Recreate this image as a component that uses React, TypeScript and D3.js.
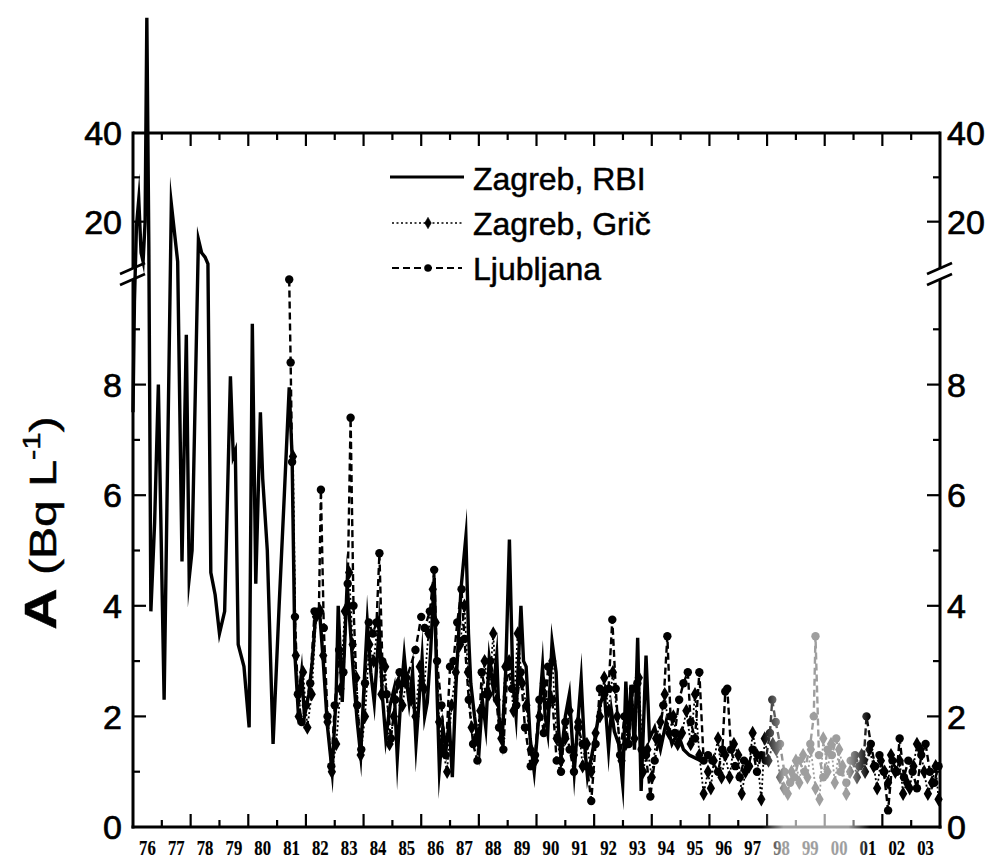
import React from "react";
import * as d3 from "d3";

// ---------- data (year, activity Bq/L) ----------
const rbiSeries: [number, number][] = [
  [1976.0, 7.5], [1976.05, 9.5], [1976.12, 19], [1976.2, 25], [1976.28, 13], [1976.35, 11], [1976.42, 20],
  [1976.48, 66], [1976.55, 14], [1976.62, 3.9], [1976.75, 5.5], [1976.88, 8.0], [1977.08, 2.3], [1977.33, 24],
  [1977.55, 11], [1977.7, 4.8], [1977.85, 8.9], [1977.95, 4.5], [1978.05, 5], [1978.27, 16], [1978.38, 13],
  [1978.5, 12], [1978.6, 10.5], [1978.7, 4.6], [1978.85, 4.2], [1979.0, 3.5], [1979.18, 3.9], [1979.38, 8.15],
  [1979.48, 6.7], [1979.55, 6.8], [1979.65, 3.3], [1979.85, 2.9], [1980.03, 1.8], [1980.14, 9.1], [1980.26, 4.4],
  [1980.42, 7.5], [1980.5, 6.3], [1980.66, 5.0], [1980.86, 1.5], [1981.07, 4.0], [1981.25, 6.0], [1981.42, 7.95],
  [1981.52, 6.7], [1981.62, 3.1], [1981.72, 2.2], [1981.85, 2.8], [1981.95, 2.0], [1982.1, 2.4], [1982.22, 3.0],
  [1982.34, 3.85], [1982.48, 3.85], [1982.6, 3.0], [1982.75, 1.8], [1982.91, 1.0], [1983.05, 2.4], [1983.12, 4.0],
  [1983.26, 2.26], [1983.43, 4.4], [1983.55, 3.5], [1983.67, 2.6], [1983.78, 1.9], [1983.9, 1.3], [1984.02, 2.6],
  [1984.13, 3.7], [1984.25, 2.8], [1984.37, 2.25], [1984.54, 3.6], [1984.65, 2.4], [1984.77, 1.6], [1984.92, 2.2],
  [1985.06, 2.5], [1985.17, 1.25], [1985.3, 2.4], [1985.41, 3.1], [1985.5, 2.6], [1985.58, 2.25], [1985.7, 2.8],
  [1985.82, 1.5], [1986.03, 3.05], [1986.12, 2.0], [1986.21, 2.25], [1986.33, 3.2], [1986.45, 4.5], [1986.54, 2.6],
  [1986.63, 1.05], [1986.75, 1.8], [1986.86, 1.4], [1986.97, 1.9], [1987.08, 0.9], [1987.2, 2.5], [1987.38, 4.3],
  [1987.55, 5.25], [1987.64, 3.5], [1987.72, 2.6], [1987.85, 2.0], [1988.01, 1.4], [1988.12, 2.3], [1988.24, 1.8],
  [1988.36, 3.05], [1988.5, 2.5], [1988.62, 3.1], [1988.7, 2.0], [1988.81, 1.6], [1988.93, 2.8], [1989.06, 5.2],
  [1989.18, 2.6], [1989.29, 2.0], [1989.46, 4.0], [1989.55, 3.0], [1989.64, 2.9], [1989.78, 1.6], [1989.92, 1.0],
  [1990.05, 1.8], [1990.21, 2.9], [1990.3, 2.0], [1990.39, 1.7], [1990.54, 3.35], [1990.68, 2.8], [1990.76, 1.8],
  [1990.85, 1.25], [1991.0, 2.0], [1991.14, 2.4], [1991.31, 1.0], [1991.42, 1.8], [1991.55, 2.67], [1991.65, 1.6],
  [1991.77, 0.9], [1991.92, 1.3], [1992.07, 1.73], [1992.2, 2.2], [1992.35, 2.45], [1992.5, 1.4], [1992.6, 2.1],
  [1992.7, 1.73], [1992.85, 1.5], [1992.99, 0.77], [1993.1, 2.63], [1993.2, 1.6], [1993.28, 2.57], [1993.4, 1.4],
  [1993.51, 3.42], [1993.63, 0.65], [1993.8, 3.1], [1993.92, 1.6], [1994.1, 1.8], [1994.3, 1.4], [1994.5, 1.9],
  [1994.7, 1.5], [1994.9, 1.7], [1995.1, 1.4], [1995.3, 1.3], [1995.5, 1.25], [1995.7, 1.2],
];

const gricSeries: [number, number][] = [
  [1981.55, 6.7], [1981.65, 3.1], [1981.75, 2.0], [1981.9, 2.8], [1982.05, 1.8], [1982.2, 2.4], [1982.35, 3.8],
  [1982.5, 3.9], [1982.6, 3.1], [1982.75, 1.9], [1982.9, 1.0], [1983.05, 1.5], [1983.2, 2.5], [1983.35, 3.9],
  [1983.5, 4.6], [1983.62, 3.3], [1983.75, 2.7], [1983.9, 1.3], [1984.05, 2.0], [1984.2, 3.3], [1984.35, 3.0],
  [1984.5, 3.7], [1984.62, 2.4], [1984.75, 2.9], [1984.9, 1.5], [1985.05, 2.0], [1985.2, 2.6], [1985.35, 2.2],
  [1985.5, 2.7], [1985.65, 2.3], [1985.8, 2.0], [1985.95, 2.9], [1986.1, 2.5], [1986.25, 3.5], [1986.4, 4.3],
  [1986.5, 3.7], [1986.62, 1.9], [1986.75, 1.4], [1986.9, 1.0], [1987.05, 2.2], [1987.2, 2.8], [1987.35, 3.3],
  [1987.5, 4.0], [1987.62, 2.8], [1987.75, 1.8], [1987.9, 1.6], [1988.05, 2.1], [1988.2, 3.0], [1988.35, 2.4],
  [1988.5, 3.5], [1988.62, 2.3], [1988.78, 1.6], [1988.92, 2.9], [1989.05, 3.0], [1989.2, 2.1], [1989.35, 3.5],
  [1989.5, 2.6], [1989.65, 2.2], [1989.8, 1.4], [1989.95, 1.2], [1990.1, 2.0], [1990.25, 2.6], [1990.4, 2.2],
  [1990.55, 3.0], [1990.7, 1.6], [1990.85, 1.2], [1991.0, 1.6], [1991.15, 2.1], [1991.3, 1.3], [1991.45, 1.9],
  [1991.6, 1.1], [1991.75, 1.5], [1991.9, 1.0], [1992.05, 1.7], [1992.2, 2.0], [1992.35, 2.7], [1992.5, 2.1],
  [1992.65, 2.8], [1992.8, 2.0], [1992.95, 1.2], [1993.1, 1.5], [1993.25, 2.2], [1993.4, 1.6], [1993.55, 2.7],
  [1993.7, 1.0], [1993.85, 1.4], [1994.0, 0.9], [1994.15, 1.6], [1994.3, 1.9], [1994.45, 2.4], [1994.6, 1.7],
  [1994.75, 2.0], [1994.9, 1.5], [1995.05, 1.7], [1995.2, 2.1], [1995.35, 1.5], [1995.5, 2.4], [1995.65, 1.3],
  [1995.8, 0.6], [1995.95, 1.0], [1996.05, 0.7], [1996.15, 1.2], [1996.3, 1.6], [1996.42, 0.9], [1996.55, 1.3],
  [1996.7, 0.9], [1996.85, 1.5], [1997.0, 1.3], [1997.12, 0.6], [1997.25, 1.0], [1997.38, 1.1], [1997.5, 1.7],
  [1997.65, 1.3], [1997.8, 0.5], [1997.92, 1.6], [1998.05, 1.2], [1998.2, 1.5], [1998.32, 1.4], [1998.45, 0.9],
  [1998.58, 0.7], [1998.72, 0.6], [1998.85, 1.0], [1999.0, 1.2], [1999.12, 0.8], [1999.25, 1.3], [1999.4, 0.9],
  [1999.52, 1.4], [1999.68, 0.7], [1999.82, 0.5], [1999.95, 1.6], [2000.1, 1.0], [2000.22, 1.5], [2000.35, 0.8],
  [2000.5, 1.4], [2000.62, 1.1], [2000.75, 0.6], [2000.88, 1.0], [2001.0, 1.2], [2001.12, 0.9], [2001.28, 1.3],
  [2001.4, 1.0], [2001.55, 1.4], [2001.7, 1.1], [2001.82, 0.7], [2001.95, 1.2], [2002.08, 1.0], [2002.2, 0.8],
  [2002.3, 1.3], [2002.45, 1.0], [2002.6, 1.2], [2002.72, 0.6], [2002.85, 0.8], [2002.95, 0.7], [2003.08, 1.1],
  [2003.2, 1.5], [2003.32, 1.4], [2003.45, 1.0], [2003.58, 0.6], [2003.72, 0.8], [2003.85, 1.1], [2003.95, 0.5],
];

const ljubljanaSeries: [number, number][] = [
  [1981.42, 9.9], [1981.47, 8.4], [1981.52, 6.6], [1981.62, 3.8], [1981.72, 2.4], [1981.85, 1.9], [1982.0, 2.2],
  [1982.15, 2.6], [1982.3, 3.9], [1982.45, 3.9], [1982.52, 6.1], [1982.62, 3.6], [1982.75, 2.0], [1982.88, 1.1],
  [1983.0, 2.2], [1983.15, 3.2], [1983.3, 2.8], [1983.45, 4.4], [1983.55, 7.4], [1983.65, 4.0], [1983.78, 2.2],
  [1983.92, 1.4], [1984.05, 2.6], [1984.18, 3.7], [1984.32, 3.5], [1984.45, 3.7], [1984.55, 4.95], [1984.65, 3.0],
  [1984.8, 2.4], [1984.95, 1.6], [1985.1, 2.3], [1985.25, 2.8], [1985.45, 2.6], [1985.8, 3.2], [1986.0, 3.8],
  [1986.12, 3.6], [1986.3, 3.9], [1986.45, 4.65], [1986.55, 3.0], [1986.7, 2.2], [1986.85, 1.3], [1987.0, 2.9],
  [1987.12, 3.0], [1987.25, 3.7], [1987.4, 4.3], [1987.5, 3.4], [1987.65, 2.3], [1987.8, 1.5], [1987.95, 1.2],
  [1988.1, 2.8], [1988.25, 2.4], [1988.4, 3.0], [1988.55, 2.6], [1988.7, 1.8], [1988.85, 1.4], [1989.0, 2.9],
  [1989.15, 2.5], [1989.3, 2.2], [1989.45, 2.8], [1989.6, 1.8], [1989.8, 1.1], [1989.95, 1.3], [1990.1, 2.3],
  [1990.25, 1.7], [1990.4, 2.9], [1990.55, 2.3], [1990.7, 1.2], [1990.85, 1.0], [1991.0, 1.9], [1991.15, 1.4],
  [1991.3, 1.0], [1991.45, 1.8], [1991.6, 1.5], [1991.75, 1.1], [1991.9, 0.47], [1992.05, 1.5], [1992.2, 2.5],
  [1992.35, 2.4], [1992.5, 2.5], [1992.63, 3.75], [1992.75, 2.5], [1992.9, 1.3], [1993.05, 2.0], [1993.2, 1.5],
  [1993.35, 2.5], [1993.5, 2.6], [1993.65, 1.4], [1993.8, 1.3], [1993.95, 0.55], [1994.1, 1.2], [1994.25, 1.6],
  [1994.4, 2.2], [1994.54, 3.45], [1994.65, 2.0], [1994.8, 1.7], [1994.95, 2.3], [1995.1, 2.6], [1995.25, 2.8],
  [1995.35, 1.9], [1995.5, 1.6], [1995.65, 2.8], [1995.8, 1.2], [1995.95, 1.3], [1996.1, 1.2], [1996.3, 1.0],
  [1996.45, 1.4], [1996.55, 2.45], [1996.62, 2.5], [1996.75, 1.4], [1996.9, 1.1], [1997.05, 0.9], [1997.2, 1.2],
  [1997.35, 1.1], [1997.5, 1.4], [1997.65, 1.0], [1997.8, 1.3], [1997.95, 1.2], [1998.1, 1.7], [1998.18, 2.3],
  [1998.3, 1.9], [1998.45, 1.5], [1998.6, 1.0], [1998.8, 0.8], [1998.95, 0.9], [1999.1, 1.2], [1999.3, 1.0],
  [1999.5, 1.5], [1999.62, 2.0], [1999.68, 3.45], [1999.8, 1.3], [1999.95, 0.9], [2000.1, 1.4], [2000.25, 1.3],
  [2000.4, 1.6], [2000.55, 1.0], [2000.75, 0.8], [2000.9, 1.2], [2001.05, 1.3], [2001.2, 1.1], [2001.35, 1.2],
  [2001.45, 2.0], [2001.6, 1.5], [2001.75, 1.1], [2001.9, 1.3], [2002.05, 1.0], [2002.2, 0.3], [2002.35, 1.2],
  [2002.5, 1.0], [2002.6, 1.6], [2002.75, 0.9], [2002.9, 1.2], [2003.05, 1.0], [2003.2, 0.7], [2003.35, 1.3],
  [2003.5, 1.5], [2003.65, 1.0], [2003.8, 0.8], [2003.95, 1.1],
];

const yearLabels = ["76", "77", "78", "79", "80", "81", "82", "83", "84", "85", "86", "87", "88", "89",
  "90", "91", "92", "93", "94", "95", "96", "97", "98", "99", "00", "01", "02", "03"];
const lowerTickLabels = [0, 2, 4, 6, 8];
const upperTickLabels = [20, 40];
const legendNames = ["Zagreb, RBI", "Zagreb, Grič", "Ljubljana"];

// ---------- layout ----------
const W = 990, H = 862;
const L = 133, R = 940, TOP = 133, BOT = 827;
const x = d3.scaleLinear().domain([1976, 2004]).range([L, R]);
const yLow = d3.scaleLinear().domain([0, 10]).range([BOT, 274]);
const yHigh = d3.scaleLinear().domain([10, 40]).range([266, TOP]);
const yMap = (v: number) => (v <= 10 ? yLow(v) : yHigh(v));

const line = d3.line<[number, number]>().x((d) => x(d[0])).y((d) => yMap(d[1]));
const diamond = d3.symbol().type(d3.symbolDiamond).size(60)() as string;
const diamondSmall = d3.symbol().type(d3.symbolDiamond).size(38)() as string;

const SANS = "'Liberation Sans', Arial, sans-serif";
const SERIF = "'Liberation Serif', 'Times New Roman', serif";

export default function App() {
  const yearTicks = d3.range(1977, 2004);
  const lowerMinor = d3.range(1, 10);
  const ax = { stroke: "#000", strokeWidth: 3, fill: "none" } as const;

  return (
    <svg width={W} height={H} style={{ position: "absolute", left: 0, top: 0, background: "#fff" }}
      fontFamily={SANS}>
      <defs>
        <linearGradient id="fade" x1="0" x2="1" y1="0" y2="0">
          <stop offset="0" stopColor="#fff" stopOpacity="0" />
          <stop offset="0.2" stopColor="#fff" stopOpacity="0.62" />
          <stop offset="0.8" stopColor="#fff" stopOpacity="0.62" />
          <stop offset="1" stopColor="#fff" stopOpacity="0" />
        </linearGradient>
      </defs>
      <rect x={0} y={0} width={W} height={H} fill="#fff" />

      {/* data */}
      <path d={line(ljubljanaSeries) || ""} fill="none" stroke="#000" strokeWidth={2.4} strokeDasharray="7,4" />
      <path d={line(gricSeries) || ""} fill="none" stroke="#000" strokeWidth={1.8} strokeDasharray="2,2.5" />
      <path d={line(rbiSeries) || ""} fill="none" stroke="#000" strokeWidth={3.4} strokeLinejoin="miter" strokeMiterlimit={20} />
      {ljubljanaSeries.map((d, i) => (
        <circle key={"l" + i} cx={x(d[0])} cy={yMap(d[1])} r={4.2} fill="#000" />
      ))}
      {gricSeries.map((d, i) => (
        <path key={"g" + i} d={diamond} transform={`translate(${x(d[0])},${yMap(d[1])})`} fill="#000" />
      ))}

      {/* frame */}
      <line x1={L} x2={R} y1={TOP} y2={TOP} {...ax} />
      <line x1={L - 1.5} x2={R + 1.5} y1={BOT} y2={BOT} {...ax} />
      <line x1={L} x2={L} y1={TOP - 1.5} y2={268} {...ax} />
      <line x1={L} x2={L} y1={279} y2={BOT + 1.5} {...ax} />
      <line x1={R} x2={R} y1={TOP - 1.5} y2={268} {...ax} />
      <line x1={R} x2={R} y1={279} y2={BOT + 1.5} {...ax} />
      {/* break marks */}
      {[L, R].map((bx) => (
        <g key={"br" + bx}>
          <line x1={bx - 13} y1={274} x2={bx + 12} y2={263} stroke="#000" strokeWidth={2.6} />
          <line x1={bx - 13} y1={285} x2={bx + 12} y2={274} stroke="#000" strokeWidth={2.6} />
        </g>
      ))}

      {/* x ticks */}
      {yearTicks.map((yr) => {
        const len = yr % 2 === 0 ? 13 : 7;
        return (
          <g key={"xt" + yr}>
            <line x1={x(yr)} x2={x(yr)} y1={BOT} y2={BOT - len} stroke="#000" strokeWidth={2.2} />
            <line x1={x(yr)} x2={x(yr)} y1={TOP} y2={TOP + len} stroke="#000" strokeWidth={2.2} />
          </g>
        );
      })}
      {/* y ticks */}
      {lowerMinor.map((v) => {
        const len = v % 2 === 0 ? 13 : 7;
        return (
          <g key={"yt" + v}>
            <line x1={L} x2={L + len} y1={yLow(v)} y2={yLow(v)} stroke="#000" strokeWidth={2.2} />
            <line x1={R} x2={R - len} y1={yLow(v)} y2={yLow(v)} stroke="#000" strokeWidth={2.2} />
          </g>
        );
      })}
      {[20, 30].map((v) => {
        const len = v === 20 ? 13 : 7;
        return (
          <g key={"yu" + v}>
            <line x1={L} x2={L + len} y1={yHigh(v)} y2={yHigh(v)} stroke="#000" strokeWidth={2.2} />
            <line x1={R} x2={R - len} y1={yHigh(v)} y2={yHigh(v)} stroke="#000" strokeWidth={2.2} />
          </g>
        );
      })}

      {/* y tick labels */}
      <g fontSize={34} fill="#000" stroke="#000" strokeWidth={0.7}>
        {lowerTickLabels.map((v) => (
          <g key={"yl" + v}>
            <text x={L - 11} y={yLow(v)} dy="0.36em" textAnchor="end">{v}</text>
            <text x={R + 7} y={yLow(v)} dy="0.36em" textAnchor="start">{v}</text>
          </g>
        ))}
        {upperTickLabels.map((v) => (
          <g key={"yh" + v}>
            <text x={L - 11} y={yHigh(v)} dy="0.36em" textAnchor="end">{v}</text>
            <text x={R + 7} y={yHigh(v)} dy="0.36em" textAnchor="start">{v}</text>
          </g>
        ))}
      </g>

      {/* x tick labels */}
      <g fontFamily={SERIF} fontSize={22} fontWeight="bold" fill="#000" stroke="#000" strokeWidth={0.2}>
        {yearLabels.map((lab, i) => (
          <text key={"xl" + i} textAnchor="middle"
            transform={`translate(${x(1976 + i + 0.5)},855) scale(0.76,1)`}>{lab}</text>
        ))}
      </g>

      {/* y axis title */}
      <text transform="translate(56,523) rotate(-90) scale(1.3,1)" textAnchor="middle" fill="#000" fontSize={37}
        stroke="#000" strokeWidth={0.5}>
        <tspan fontWeight="bold" fontSize={44}>A</tspan>
        <tspan> (Bq L</tspan>
        <tspan fontSize={24} dy={-16}>-1</tspan>
        <tspan dy={16}>)</tspan>
      </text>

      {/* legend */}
      <g fontSize={32} fill="#000" stroke="#000" strokeWidth={0.5}>
        <line x1={390} x2={464} y1={177} y2={177} stroke="#000" strokeWidth={3.2} />
        <text x={473} y={190}>{legendNames[0]}</text>
        <line x1={392} x2={462} y1={223} y2={223} stroke="#000" strokeWidth={1.6} strokeDasharray="2,2.5" />
        <path d={diamondSmall} transform="translate(428,223)" fill="#000" />
        <text x={473} y={235}>{legendNames[1]}</text>
        <line x1={392} x2={462} y1={268} y2={268} stroke="#000" strokeWidth={2} strokeDasharray="7,4" />
        <circle cx={428} cy={268} r={3.6} fill="#000" />
        <text x={473} y={280}>{legendNames[2]}</text>
      </g>

      {/* faded scan region */}
      <rect x={762} y={595} width={108} height={H - 595} fill="url(#fade)" />
    </svg>
  );
}
